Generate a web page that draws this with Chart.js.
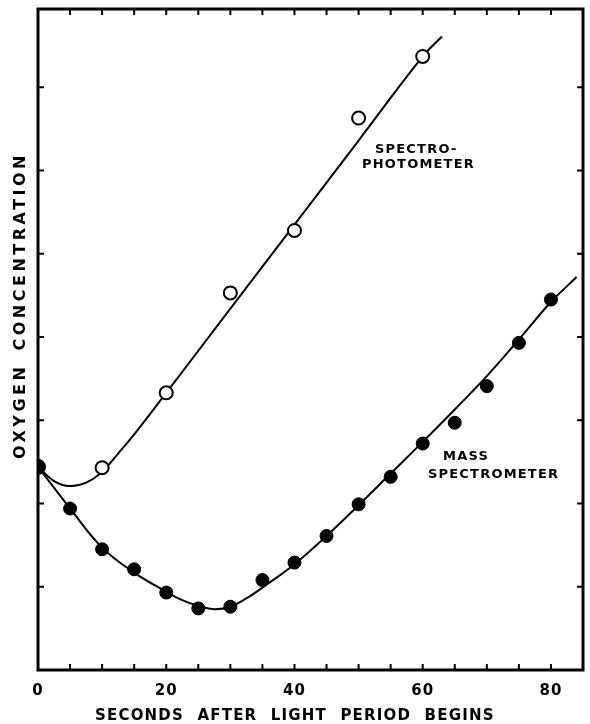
<!DOCTYPE html>
<html>
<head>
<meta charset="utf-8">
<script src="https://cdn.jsdelivr.net/npm/chart.js@4.4.1/dist/chart.umd.min.js"></script>
<style>
  html, body { margin: 0; padding: 0; background: #fff; }
  #wrap { width: 590px; height: 724px; }
</style>
</head>
<body>
<div id="wrap"><canvas id="chart" width="590" height="724"></canvas></div>
<script>
// measured points (seconds, relative O2 units)
const spectroX = [10, 20, 30, 40, 50, 60];
const spectroY = [2.43, 3.33, 4.53, 5.28, 6.63, 7.37];

const massX = [0, 5, 10, 15, 20, 25, 30, 35, 40, 45, 50, 55, 60, 65, 70, 75, 80];
const massY = [2.44, 1.94, 1.45, 1.21, 0.93, 0.74, 0.76, 1.08, 1.29, 1.61, 1.99, 2.32, 2.72, 2.97, 3.41, 3.93, 4.45];

// hand drawn fit curves
const spectroCurveX = [0, 2.5, 5, 7.5, 10, 12.5, 15, 20, 30, 40, 50, 60, 63];
const spectroCurveY = [2.44, 2.27, 2.21, 2.25, 2.38, 2.6, 2.83, 3.33, 4.34, 5.35, 6.36, 7.37, 7.61];

const massCurveX = [0, 5, 10, 15, 20, 22.5, 25, 27.5, 30, 32.5, 35, 40, 45, 50, 55, 60, 65, 70, 75, 80, 84];
const massCurveY = [2.44, 1.94, 1.47, 1.17, 0.94, 0.84, 0.77, 0.73, 0.76, 0.86, 0.99, 1.27, 1.61, 1.98, 2.36, 2.74, 3.13, 3.53, 3.97, 4.42, 4.72];

const xLabels = [0, 20, 40, 60, 80];

const FONT = "'DejaVu Sans', sans-serif";

function pts(xs, ys) {
    return xs.map((x, i) => ({ x: x, y: ys[i] }));
}

// frame, inward ticks and lettering
const framePlugin = {
    id: 'frame',
    beforeDraw(chart) {
        chart.ctx.letterSpacing = '1px';
    },
    afterDraw(chart) {
        const ctx = chart.ctx;
        const a = chart.chartArea;
        const xs = chart.scales.x;
        const ys = chart.scales.y;
        ctx.save();
        ctx.strokeStyle = '#000';
        ctx.lineWidth = 2;
        const tl = 6;
        xs.ticks.forEach(t => {
            if (t.value <= 0 || t.value >= xs.max - 0.5) return;
            const px = xs.getPixelForValue(t.value);
            ctx.beginPath();
            ctx.moveTo(px, a.bottom); ctx.lineTo(px, a.bottom - tl);
            ctx.moveTo(px, a.top); ctx.lineTo(px, a.top + tl);
            ctx.stroke();
        });
        ys.ticks.forEach(t => {
            if (t.value <= 0 || t.value >= ys.max - 0.5) return;
            const py = ys.getPixelForValue(t.value);
            ctx.beginPath();
            ctx.moveTo(a.left, py); ctx.lineTo(a.left + tl, py);
            ctx.moveTo(a.right, py); ctx.lineTo(a.right - tl, py);
            ctx.stroke();
        });
        ctx.lineWidth = 3;
        ctx.strokeRect(a.left, a.top, a.right - a.left, a.bottom - a.top);

        ctx.fillStyle = '#000';
        ctx.textBaseline = 'alphabetic';
        ctx.textAlign = 'left';

        // x title
        ctx.font = 'bold 15px ' + FONT;
        ctx.letterSpacing = '1.2px';
        ctx.wordSpacing = '7px';
        ctx.fillText('SECONDS AFTER LIGHT PERIOD BEGINS', 95, 720);

        // y title
        ctx.save();
        ctx.translate(25, 459);
        ctx.rotate(-Math.PI / 2);
        ctx.font = 'bold 16px ' + FONT;
        ctx.letterSpacing = '3.5px';
        ctx.wordSpacing = '4px';
        ctx.fillText('OXYGEN CONCENTRATION', 0, 0);
        ctx.restore();

        // curve labels
        ctx.font = 'bold 13px ' + FONT;
        ctx.letterSpacing = '1.2px';
        ctx.wordSpacing = '0px';
        ctx.fillText('SPECTRO-', 375, 153);
        ctx.fillText('PHOTOMETER', 362, 168);
        ctx.fillText('MASS', 443, 460);
        ctx.fillText('SPECTROMETER', 428, 478);
        ctx.restore();
        ctx.letterSpacing = '0px';
    }
};

new Chart(document.getElementById('chart'), {
    type: 'scatter',
    data: {
        datasets: [
            {
                label: 'Spectrophotometer',
                data: pts(spectroX, spectroY),
                pointRadius: 6.5,
                pointBackgroundColor: '#fff',
                pointBorderColor: '#000',
                pointBorderWidth: 2,
                showLine: false,
                order: 0
            },
            {
                label: 'Mass spectrometer',
                data: pts(massX, massY),
                pointRadius: ctx => ctx.dataIndex === 0 ? 7.5 : 6.5,
                pointBackgroundColor: '#000',
                pointBorderColor: '#000',
                pointBorderWidth: 1,
                showLine: false,
                order: 0
            },
            {
                label: 'spectro fit',
                type: 'line',
                data: pts(spectroCurveX, spectroCurveY),
                borderColor: '#000',
                borderWidth: 2,
                pointRadius: 0,
                tension: 0.4,
                fill: false,
                order: 1
            },
            {
                label: 'mass fit',
                type: 'line',
                data: pts(massCurveX, massCurveY),
                borderColor: '#000',
                borderWidth: 2,
                pointRadius: 0,
                tension: 0.4,
                fill: false,
                order: 1
            }
        ]
    },
    options: {
        responsive: false,
        animation: false,
        layout: { autoPadding: false, padding: { top: 9, right: 7, left: 0, bottom: 0 } },
        plugins: {
            legend: { display: false },
            tooltip: { enabled: false }
        },
        scales: {
            x: {
                type: 'linear',
                min: 0,
                max: 85,
                border: { display: false },
                grid: { display: false, drawTicks: false },
                ticks: {
                    stepSize: 5,
                    autoSkip: false,
                    maxRotation: 0,
                    padding: 12,
                    color: '#000',
                    font: { family: FONT, size: 15, weight: 'bold' },
                    callback: v => xLabels.includes(v) ? String(v) : ''
                },
                afterFit: s => {
                    s.height = 54;
                    s.paddingLeft = 0;
                    s.paddingRight = 0;
                }
            },
            y: {
                type: 'linear',
                min: 0,
                max: 7.94,
                border: { display: false },
                grid: { display: false, drawTicks: false },
                ticks: { stepSize: 1, display: false },
                afterFit: s => {
                    s.width = 38;
                    s.paddingTop = 0;
                    s.paddingBottom = 0;
                }
            }
        }
    },
    plugins: [framePlugin]
});
</script>
</body>
</html>
